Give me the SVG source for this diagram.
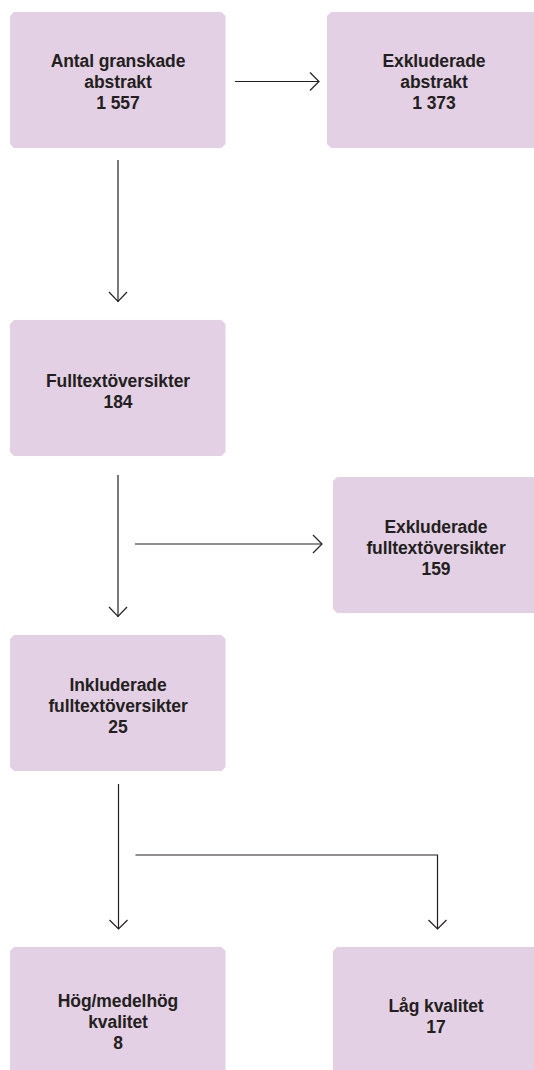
<svg xmlns="http://www.w3.org/2000/svg" width="534" height="1070" viewBox="0 0 534 1070">
<style>
.box{fill:#e3d0e4;stroke:none}
.t{font-family:"Liberation Sans",Arial,sans-serif;font-weight:700;font-size:17.5px;letter-spacing:-0.1px;fill:#231f20;text-anchor:middle}
.c{fill:none;stroke:#231f20;stroke-width:1.2}
.h{fill:none;stroke:#231f20;stroke-width:1.2;stroke-linejoin:miter}
</style>
<rect width="534" height="1070" fill="#ffffff"/>
<g id="n1">
<path class="box" d="M14,12 H221.5 L225.5,16 V144 L221.5,148 H14 L10,144 V16 Z"/>
<text class="t" x="118" y="67">Antal granskade</text>
<text class="t" x="118" y="88">abstrakt</text>
<text class="t" x="118" y="109">1 557</text>
</g>
<g id="n2">
<path class="box" d="M331,12 H545 V148 H331 L327,144 V16 Z"/>
<text class="t" x="434" y="67">Exkluderade</text>
<text class="t" x="434" y="88">abstrakt</text>
<text class="t" x="434" y="109">1 373</text>
</g>
<g id="n3">
<path class="box" d="M14,320 H221.5 L225.5,324 V452 L221.5,456 H14 L10,452 V324 Z"/>
<text class="t" x="118" y="387">Fulltextöversikter</text>
<text class="t" x="118" y="408">184</text>
</g>
<g id="n4">
<path class="box" d="M337,477 H545 V613 H337 L333,609 V481 Z"/>
<text class="t" x="436" y="533">Exkluderade</text>
<text class="t" x="436" y="554">fulltextöversikter</text>
<text class="t" x="436" y="575">159</text>
</g>
<g id="n5">
<path class="box" d="M14,635 H221.5 L225.5,639 V767 L221.5,771 H14 L10,767 V639 Z"/>
<text class="t" x="118" y="691">Inkluderade</text>
<text class="t" x="118" y="712">fulltextöversikter</text>
<text class="t" x="118" y="733">25</text>
</g>
<g id="n6">
<path class="box" d="M14,947 H221.5 L225.5,951 V1080 H10 V951 Z"/>
<text class="t" x="118" y="1007">Hög/medelhög</text>
<text class="t" x="118" y="1028">kvalitet</text>
<text class="t" x="118" y="1049">8</text>
</g>
<g id="n7">
<path class="box" d="M337,947 H545 V1080 H333 V951 Z"/>
<text class="t" x="436" y="1012">Låg kvalitet</text>
<text class="t" x="436" y="1033">17</text>
</g>
<g id="connectors">
<path class="c" d="M235,81.5 H319"/>
<path class="h" d="M310,72.5 L319,81.5 L310,90.5"/>
<path class="c" d="M118,160 V302"/>
<path class="h" d="M109,292 L118,301.5 L127,292"/>
<path class="c" d="M118,475 V617"/>
<path class="h" d="M109,607 L118,616.5 L127,607"/>
<path class="c" d="M135,544 H322"/>
<path class="h" d="M313,535 L322,544 L313,553"/>
<path class="c" d="M118.5,784 V929"/>
<path class="h" d="M109.5,920 L118.5,929 L127.5,920"/>
<path class="c" d="M135.5,855 H437.5 V929"/>
<path class="h" d="M428.5,920 L437.5,929 L446.5,920"/>
</g>
</svg>
